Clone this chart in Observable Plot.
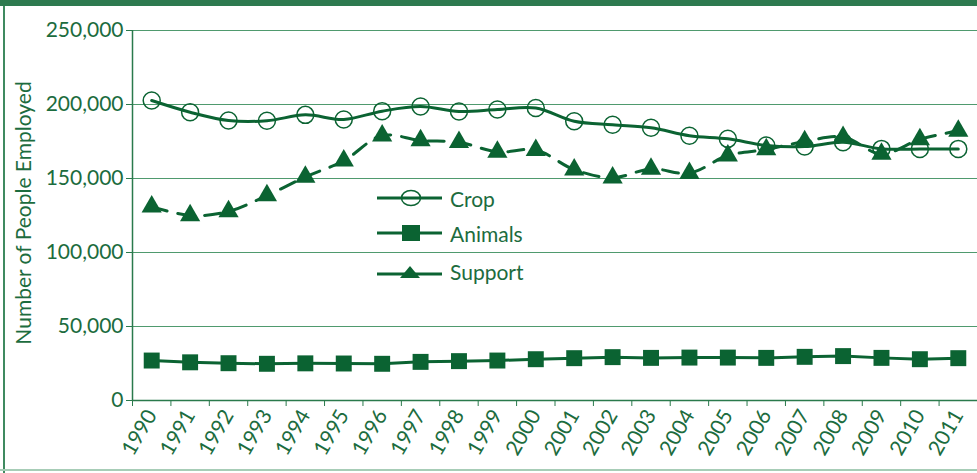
<!DOCTYPE html>
<html><head><meta charset="utf-8">
<script src="https://cdn.jsdelivr.net/npm/d3@7"></script>
<script src="https://cdn.jsdelivr.net/npm/@observablehq/plot@0.6"></script>
<style>
body{margin:0;background:#fff;}
#wrap{position:relative;width:977px;height:473px;overflow:hidden;font-family:Lato,"Open Sans",sans-serif;color:#1c6c3e;}
#topbar{position:absolute;left:0;top:0;width:977px;height:6px;background:#2e7a4f;}
#leftbar{position:absolute;left:3px;top:6px;width:2px;height:467px;background:#3f8a60;}
#bottombar{position:absolute;left:0;top:469px;width:977px;height:2px;background:#a7cdb7;}
#ylabel{position:absolute;left:22px;top:213px;transform:translate(-50%,-50%) rotate(-90deg);white-space:nowrap;font-size:21px;}
.leg{position:absolute;left:377px;height:30px;display:flex;align-items:center;font-size:21px;}
.leg svg{display:block;margin-right:7px;}
#chart{position:absolute;left:0;top:0;}
</style></head>
<body>
<div id="wrap">
  <div id="chart"></div>
  <div id="topbar"></div>
  <div id="leftbar"></div>
  <div id="bottombar"></div>
  <div id="ylabel">Number of People Employed</div>
  <div id="legend"></div>
</div>
<script>
const years = [1990,1991,1992,1993,1994,1995,1996,1997,1998,1999,2000,2001,2002,2003,2004,2005,2006,2007,2008,2009,2010,2011];
const crop = [202700,194800,189200,189000,193000,189900,195500,198600,195300,196600,197600,188700,186300,184300,178900,176800,172300,171600,174500,170000,170000,170000];
const animals = [27000,25800,25200,24800,25100,25000,24800,26100,26600,27000,27900,28600,29300,28800,29000,29000,28800,29500,30000,28800,27900,28600];
const support = [131000,125000,127700,138500,151000,162000,179000,175700,174500,168000,169200,156000,150500,156500,153600,165500,169600,175000,178000,166600,176400,182200];
const seriesNames = ["Crop","Animals","Support"];
const yTicks = [0,50000,100000,150000,200000,250000];

const TEXT = "#1c6c3e", LINE = "#0b6332", GRID = "#4f9a6e", AXIS = "#2a7a4c";

const rows = (vals) => years.map((yr, i) => ({year: yr, value: vals[i]}));
const cropData = rows(crop), animalData = rows(animals), supportData = rows(support);
const edges = years.map(y => y - 0.5);

const chart = Plot.plot({
  width: 977, height: 473,
  marginTop: 30, marginBottom: 73, marginLeft: 132, marginRight: 0,
  style: {fontFamily: "Lato, 'Open Sans', sans-serif", fontSize: "21px", color: TEXT, background: "transparent"},
  x: {type: "linear", domain: [years[0] - 0.5, years[years.length - 1] + 0.5], axis: null},
  y: {domain: [yTicks[0], yTicks[yTicks.length - 1]], axis: null},
  marks: [
    Plot.gridY(yTicks.slice(1), {stroke: GRID, strokeOpacity: 1, strokeWidth: 1}),
    Plot.axisY(yTicks, {tickSize: 6, tickPadding: 3, tickFormat: d3.format(","), label: null, stroke: AXIS, fill: TEXT, fontSize: 21}),
    Plot.ruleX(edges.slice(0, 1), {stroke: AXIS, strokeWidth: 1.5}),
    Plot.ruleY(yTicks.slice(0, 1), {stroke: AXIS, strokeWidth: 1.5}),
    Plot.axisX(edges, {tickSize: 6, tickFormat: () => "", label: null, stroke: AXIS}),
    Plot.text(years, {x: d => d, frameAnchor: "bottom", dy: 11, rotate: -60, textAnchor: "end", lineAnchor: "middle", fontSize: 21, fill: TEXT, text: d => String(d)}),
    Plot.line(animalData, {x: "year", y: "value", stroke: LINE, strokeWidth: 3}),
    Plot.dot(animalData, {x: "year", y: "value", symbol: "square", r: 9, fill: LINE, stroke: "none"}),
    Plot.line(supportData, {x: "year", y: "value", stroke: LINE, strokeWidth: 3, strokeDasharray: "16,11", curve: "catmull-rom"}),
    Plot.dot(supportData, {x: "year", y: "value", symbol: "triangle", r: 7.5, fill: LINE, stroke: "none"}),
    Plot.line(cropData, {x: "year", y: "value", stroke: LINE, strokeWidth: 3, curve: "catmull-rom"}),
    Plot.dot(cropData, {x: "year", y: "value", symbol: "circle", r: 8.5, fill: "none", stroke: LINE, strokeWidth: 1.5})
  ]
});
document.getElementById("chart").appendChild(chart);

// Legend
const legTops = [183, 218, 256];
const markerSvg = [
  '<svg width="66" height="20"><line x1="0" y1="10" x2="65" y2="10" stroke="'+LINE+'" stroke-width="3"/><ellipse cx="34" cy="10" rx="9.5" ry="7.5" fill="none" stroke="'+LINE+'" stroke-width="1.5"/></svg>',
  '<svg width="66" height="20"><line x1="0" y1="10" x2="65" y2="10" stroke="'+LINE+'" stroke-width="3"/><rect x="25" y="2" width="18" height="16" fill="'+LINE+'"/></svg>',
  '<svg width="66" height="20"><line x1="0" y1="13" x2="65" y2="13" stroke="'+LINE+'" stroke-width="3"/><polygon points="23,17 43,17 33,5" fill="'+LINE+'"/></svg>'
];
const leg = document.getElementById("legend");
seriesNames.forEach((name, i) => {
  const d = document.createElement("div");
  d.className = "leg";
  d.style.top = legTops[i] + "px";
  d.innerHTML = markerSvg[i] + "<span>" + name + "</span>";
  leg.appendChild(d);
});
</script>
</body></html>
